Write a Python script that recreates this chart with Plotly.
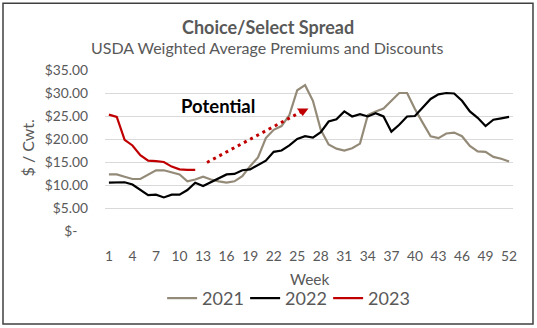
import plotly.graph_objects as go

# Weekly Choice/Select spread, $ per cwt
weeks = list(range(1, 53))

spread_2021 = [12.3, 12.3, 11.8, 11.3, 11.3, 12.2, 13.2, 13.2, 12.7, 12.3,
               10.8, 11.2, 11.8, 11.2, 10.8, 10.5, 10.8, 11.9, 14.1, 16.0,
               20.2, 22.0, 22.8, 25.2, 30.6, 31.7, 28.3, 22.0, 18.8, 17.9,
               17.5, 18.0, 19.0, 25.2, 26.0, 26.6, 28.3, 30.0, 30.0, 26.5,
               23.5, 20.6, 20.2, 21.2, 21.4, 20.6, 18.5, 17.3, 17.2, 16.1,
               15.7, 15.1]

spread_2022 = [10.5, 10.6, 10.6, 10.1, 9.0, 7.8, 7.9, 7.3, 7.9, 7.9,
               8.9, 10.5, 9.8, 10.6, 11.4, 12.3, 12.4, 13.2, 13.4, 14.3,
               15.3, 17.2, 17.5, 18.6, 20.0, 20.6, 20.3, 21.5, 23.8, 24.3,
               26.0, 24.9, 25.4, 24.9, 25.6, 24.9, 21.6, 23.1, 24.9, 25.0,
               26.8, 28.7, 29.7, 30.0, 29.9, 28.3, 26.0, 24.6, 22.8, 24.2,
               24.5, 24.8]

spread_2023 = [25.3, 24.8, 19.8, 18.6, 16.5, 15.3, 15.2, 15.0, 14.0, 13.4,
               13.3, 13.3]

# "Potential" trend arrow (week, $/cwt)
arrow_start = (13.5, 14.9)
arrow_end = (25.7, 26.1)

x_ticks = list(range(1, 53, 3))
y_ticks = [0, 5, 10, 15, 20, 25, 30, 35]
y_tick_text = ["$-\u00a0\u00a0\u00a0" if v == 0 else f"${v:.2f}" for v in y_ticks]

GRAY_TEXT = "#595959"
FONT = "Lato"

fig = go.Figure()

fig.add_trace(go.Scatter(x=weeks, y=spread_2021, name="2021", mode="lines",
                         line=dict(color="#948A78", width=2.2)))
fig.add_trace(go.Scatter(x=weeks, y=spread_2022, name="2022", mode="lines",
                         line=dict(color="#000000", width=2.2)))
fig.add_trace(go.Scatter(x=weeks[:len(spread_2023)], y=spread_2023, name="2023",
                         mode="lines", line=dict(color="#C00000", width=2.2)))

# dotted projection with a triangular head
fig.add_trace(go.Scatter(x=[arrow_start[0], arrow_end[0]],
                         y=[arrow_start[1], arrow_end[1]],
                         mode="lines", showlegend=False, hoverinfo="skip",
                         line=dict(color="#C00000", width=3, dash="3px,4px")))
fig.add_trace(go.Scatter(x=[arrow_end[0]], y=[arrow_end[1]], mode="markers",
                         showlegend=False, hoverinfo="skip",
                         marker=dict(symbol="triangle-down", size=10,
                                     color="#C00000")))

fig.add_annotation(x=14.85, y=27.2, xref="x", yref="y", text="<b>Potential</b>",
                   showarrow=False, font=dict(family=FONT, size=18.5, color="#000000"))

# titles
fig.add_annotation(x=0.3995, y=1.27, xref="paper", yref="paper",
                   text="<b>Choice/Select Spread</b>", showarrow=False,
                   xanchor="center", yanchor="middle",
                   font=dict(family=FONT, size=18, color=GRAY_TEXT))
fig.add_annotation(x=0.3995, y=1.138, xref="paper", yref="paper",
                   text="USDA Weighted Average Premiums and Discounts",
                   showarrow=False, xanchor="center", yanchor="middle",
                   font=dict(family=FONT, size=16, color=GRAY_TEXT))
fig.add_annotation(x=-0.189, y=0.518, xref="paper", yref="paper",
                   text="$ / Cwt.", textangle=-90, showarrow=False,
                   xanchor="center", yanchor="middle",
                   font=dict(family=FONT, size=16, color=GRAY_TEXT))
fig.add_annotation(x=0.502, y=-0.299, xref="paper", yref="paper",
                   text="Week", showarrow=False, xanchor="center",
                   yanchor="middle",
                   font=dict(family=FONT, size=15.5, color=GRAY_TEXT))

# outer frame
fig.add_shape(type="rect", xref="paper", yref="paper",
              x0=-0.25, x1=1.049, y0=-0.577, y1=1.414,
              line=dict(color="#404040", width=1.5), fillcolor="rgba(0,0,0,0)",
              layer="above")

fig.update_layout(
    width=537, height=328,
    margin=dict(l=105, r=24, t=70, b=96.3),
    paper_bgcolor="white", plot_bgcolor="white",
    font=dict(family=FONT, color=GRAY_TEXT),
    showlegend=True,
    legend=dict(orientation="h", x=0.14, xanchor="left", y=-0.41,
                yanchor="middle", font=dict(family=FONT, size=18, color=GRAY_TEXT),
                itemwidth=30, entrywidth=38, tracegroupgap=0,
                bgcolor="rgba(0,0,0,0)"),
    xaxis=dict(range=[0.5, 52.5], tickmode="array", tickvals=x_ticks,
               showgrid=False, zeroline=False, showline=False,
               ticks="", ticklabelstandoff=15,
               tickfont=dict(family=FONT, size=13.8, color=GRAY_TEXT)),
    yaxis=dict(range=[0, 35], tickmode="array", tickvals=y_ticks,
               ticktext=y_tick_text, showgrid=True, gridcolor="#D9D9D9",
               gridwidth=1, zeroline=False, showline=False, ticks="",
               ticklabelstandoff=16,
               tickfont=dict(family=FONT, size=13.8, color=GRAY_TEXT)),
)

fig.write_html("out.html")
